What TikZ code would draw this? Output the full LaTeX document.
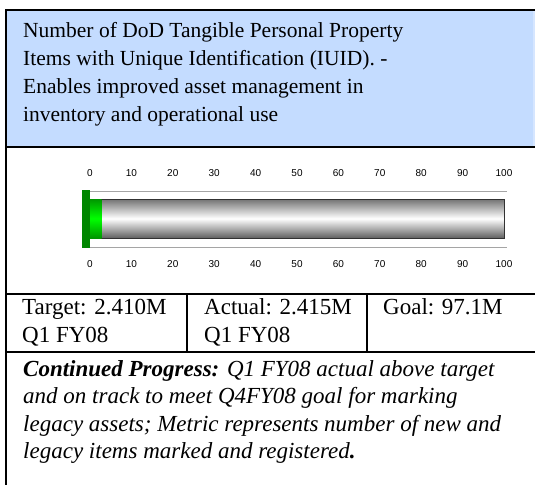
\documentclass[tikz,border=0pt]{standalone}
\usepackage{fontspec}
\setmainfont{Liberation Serif}
\newfontfamily\axisfont{Liberation Sans}
\definecolor{hdrblue}{RGB}{196,220,255}
\definecolor{hdrlight}{RGB}{214,230,255}
\definecolor{darkgreen}{RGB}{0,135,0}
\definecolor{midgreen}{RGB}{0,150,0}
\definecolor{brightgreen}{RGB}{0,255,0}
\definecolor{axisgray}{RGB}{165,165,165}
\definecolor{barborder}{RGB}{50,50,50}
\begin{document}
\begin{tikzpicture}[x=1pt,y=-1pt,
  rule/.style={line width=2pt,black},
  hdr/.style={anchor=base west,inner sep=0pt,font=\fontsize{21.5}{28}\selectfont},
  cell/.style={anchor=base west,inner sep=0pt,font=\fontsize{23}{28}\selectfont},
  note/.style={anchor=base west,inner sep=0pt,font=\fontsize{23}{28}\selectfont\itshape},
  ticklbl/.style={inner sep=0pt,font=\axisfont\fontsize{10}{12}\selectfont}]
\useasboundingbox (0,0) rectangle (535,485);
\fill[white] (0,0) rectangle (535,485);
% header fill
\fill[hdrblue] (6,10) rectangle (533,147);
\fill[hdrlight] (533,10) rectangle (535,147);
% rules
\draw[rule] (5,10) -- (535,10);
\draw[rule] (6,9) -- (6,485);
\draw[rule] (6,147) -- (535,147);
\draw[rule] (6,294) -- (535,294);
\draw[rule] (6,352) -- (535,352);
\draw[rule] (187,294) -- (187,352);
\draw[rule] (367,294) -- (367,352);
% header text
\node[hdr] (h1) at (23,37.5) {Number of DoD Tangible Personal Property};
\node[hdr] (h2) at (23,65.5) {Items with Unique Identification (IUID). -};
\node[hdr] (h3) at (23,93.5) {Enables improved asset management in};
\node[hdr] (h4) at (23,121.5) {inventory and operational use};
% axis labels
\foreach \v [count=\i from 0] in {0,10,20,30,40,50,60,70,80,90,100} {
  \node[ticklbl] (tt\i) at (90+\i*41.4,173) {\v};
  \node[ticklbl] (tb\i) at (90+\i*41.4,264) {\v};
}
% guide lines
\draw[axisgray,line width=1pt] (90,191) -- (507,191);
\draw[axisgray,line width=1pt] (90,247) -- (507,247);
% bar
\shade[top color=black!55,bottom color=black!62,middle color=white] (90,199) rectangle (504,238);
\draw[barborder,line width=1pt] (90,199) rectangle (504,238);
% green fill
\shade[top color=midgreen,bottom color=midgreen,middle color=brightgreen] (90,199) rectangle (101.5,238);
\fill[darkgreen] (82,190) rectangle (90,247.5);
% cells
\node[cell] (t1) at (22,314) {Target: 2.410M};
\node[cell] (t2) at (22,342) {Q1 FY08};
\node[cell] (a1) at (204,314) {Actual: 2.415M};
\node[cell] (a2) at (204,342) {Q1 FY08};
\node[cell] (g1) at (383,314) {Goal: 97.1M};
% note
\node[note] (n1) at (23,376) {\textbf{Continued Progress:} Q1 FY08 actual above target};
\node[note] (n2) at (23,403.5) {and on track to meet Q4FY08 goal for marking};
\node[note] (n3) at (23,431) {legacy assets; Metric represents number of new and};
\node[note] (n4) at (23,458.5) {legacy items marked and registered\textbf{.}};
\end{tikzpicture}
\end{document}
